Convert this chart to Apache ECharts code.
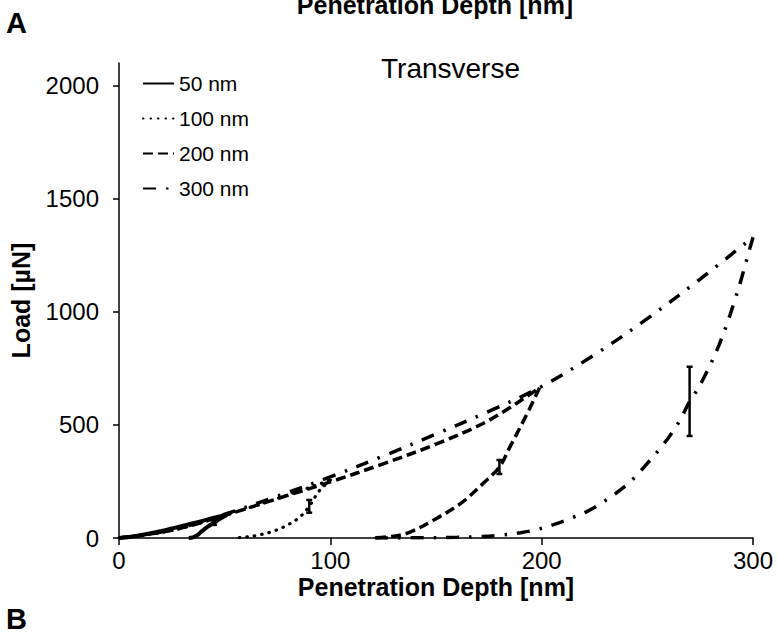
<!DOCTYPE html>
<html>
<head>
<meta charset="utf-8">
<script src="https://cdn.jsdelivr.net/npm/echarts@6/dist/echarts.min.js"></script>
<style>
html,body{margin:0;padding:0;background:#fff;}
#chart{width:778px;height:635px;}
</style>
</head>
<body>
<div id="chart"></div>
<script>
// ---- data ----
const seriesNames = ['50 nm', '100 nm', '200 nm', '300 nm'];
const xTicks = [0, 100, 200, 300];
const yTicks = [0, 500, 1000, 1500, 2000];

const load50X = [0, 5, 10, 15, 20, 25, 30, 35, 40, 45, 51];
const load50Y = [0, 4, 12, 21, 31, 42, 53, 65, 77, 90, 102];
const unload50X = [51, 48, 45, 42, 39, 37, 35, 33];
const unload50Y = [102, 86, 68, 50, 28, 12, 3, 0];

const load100X = [0, 25, 50, 75, 100];
const load100Y = [0, 34, 100, 175, 256];
const unload100X = [100, 97, 94, 90, 85, 78, 72, 66, 60, 55];
const unload100Y = [256, 230, 199, 140, 88, 49, 27, 13, 4, 0];

const load200X = [0, 25, 50, 75, 100, 125, 150, 175, 199];
const load200Y = [0, 34, 100, 174, 248, 328, 415, 520, 664];
const unload200X = [199, 194, 185, 180, 172.5, 162, 149, 138, 131, 120];
const unload200Y = [664, 566, 403, 314, 243, 155, 80, 27, 9, 0];

const load300X = [0, 25, 50, 75, 100, 125, 150, 175, 200, 225, 250, 275, 300];
const load300Y = [0, 35, 105, 185, 270, 362, 460, 560, 670, 810, 970, 1145, 1330];
const unload300X = [300, 297, 294, 291, 288, 284, 280, 276, 272, 270, 266, 262, 256, 250, 244, 238, 230, 222, 214, 206, 198, 190, 180, 170, 160, 145, 120];
const unload300Y = [1330, 1230, 1130, 1040, 955, 855, 770, 695, 630, 604, 530, 470, 395, 330, 268, 218, 165, 120, 88, 60, 38, 23, 12, 6, 3, 1, 0];

const errX = [45, 90, 180, 270];
const errMean = [68, 140, 314, 604];
const errSD = [10, 28, 31, 153];

// ---- build ----
function pairs(xs, ys) { return xs.map((x, i) => [x, ys[i]]); }

const loads = [pairs(load50X, load50Y), pairs(load100X, load100Y), pairs(load200X, load200Y), pairs(load300X, load300Y)];
const unloads = [pairs(unload50X, unload50Y), pairs(unload100X, unload100Y), pairs(unload200X, unload200Y), pairs(unload300X, unload300Y)];

const styles = [
  { type: 'solid', width: 4, cap: 'butt' },
  { type: [0.5, 7], width: 3.2, cap: 'round' },
  { type: [10, 5], width: 3.5, cap: 'butt' },
  { type: [13, 10, 2.5, 10], width: 3.5, cap: 'butt' }
];

function mkLine(name, data, i) {
  return {
    name: name,
    type: 'line',
    data: data,
    showSymbol: false,
    symbol: 'none',
    smooth: 0.35,
    lineStyle: Object.assign({ color: '#000' }, styles[i]),
    itemStyle: { color: '#000' },
    z: 3
  };
}
const lineSeries = [];
seriesNames.forEach((name, i) => {
  lineSeries.push(mkLine(name, loads[i], i));
  lineSeries.push(mkLine(name, unloads[i], i));
});

const errData = errX.map((x, i) => [x, errMean[i] - errSD[i], errMean[i] + errSD[i]]);

const errSeries = {
  type: 'custom',
  data: errData,
  z: 4,
  renderItem: function (params, api) {
    const x = api.value(0);
    const lo = api.coord([x, api.value(1)]);
    const hi = api.coord([x, api.value(2)]);
    const hw = 3;
    const st = { stroke: '#000', lineWidth: 2.5 };
    return {
      type: 'group',
      children: [
        { type: 'line', shape: { x1: lo[0], y1: lo[1], x2: hi[0], y2: hi[1] }, style: st },
        { type: 'line', shape: { x1: lo[0] - hw, y1: lo[1], x2: lo[0] + hw, y2: lo[1] }, style: st },
        { type: 'line', shape: { x1: hi[0] - hw, y1: hi[1], x2: hi[0] + hw, y2: hi[1] }, style: st }
      ]
    };
  }
};

const chart = echarts.init(document.getElementById('chart'), null, { renderer: 'svg' });
const FONT = 'Liberation Sans, Arial, sans-serif';

chart.setOption({
  backgroundColor: '#fff',
  animation: false,
  textStyle: { fontFamily: FONT, color: '#000' },
  grid: { left: 117, right: 25, top: 63, bottom: 97 },
  legend: {
    data: seriesNames,
    orient: 'vertical',
    left: 137,
    top: 68,
    itemWidth: 31,
    itemHeight: 14,
    itemGap: 14,
    itemStyle: { opacity: 0 },
    textStyle: { fontSize: 21, color: '#000', fontFamily: FONT },
    inactiveColor: '#000'
  },
  xAxis: {
    type: 'value',
    min: 0,
    max: 300,
    interval: 100,
    name: 'Penetration Depth [nm]',
    nameLocation: 'middle',
    nameGap: 36,
    nameMoveOverlap: false,
    nameTextStyle: { fontSize: 25, fontWeight: 'bold', color: '#000', fontFamily: FONT },
    axisLine: { lineStyle: { color: '#000', width: 1.5 } },
    axisTick: { show: true, length: 7, lineStyle: { color: '#000', width: 1.5 } },
    axisLabel: { fontSize: 24, lineHeight: 24, color: '#000', margin: 10, fontFamily: FONT },
    splitLine: { show: false }
  },
  yAxis: {
    type: 'value',
    min: 0,
    max: 2100,
    name: 'Load [µN]',
    nameLocation: 'middle',
    nameGap: 86,
    nameTextStyle: { fontSize: 25, fontWeight: 'bold', color: '#000', fontFamily: FONT },
    axisLine: { show: true, lineStyle: { color: '#000', width: 1.5 } },
    axisTick: { show: true, length: 6, customValues: yTicks, lineStyle: { color: '#000', width: 1.5 } },
    axisLabel: { fontSize: 24, color: '#000', margin: 20, customValues: yTicks, fontFamily: FONT, formatter: function (v) { return String(v); } },
    splitLine: { show: false }
  },
  graphic: [
    { type: 'text', left: 381, top: 54, style: { text: 'Transverse', font: '28px ' + FONT, fill: '#000' } },
    { type: 'text', left: 6, top: 8, style: { text: 'A', font: 'bold 29px ' + FONT, fill: '#000' } },
    { type: 'text', left: 6, top: 604, style: { text: 'B', font: 'bold 29px ' + FONT, fill: '#000' } },
    { type: 'text', x: 435, y: -8, style: { text: 'Penetration Depth [nm]', font: 'bold 25px ' + FONT, fill: '#000', textAlign: 'center' } }
  ],
  series: lineSeries.concat([errSeries])
});
</script>
</body>
</html>
